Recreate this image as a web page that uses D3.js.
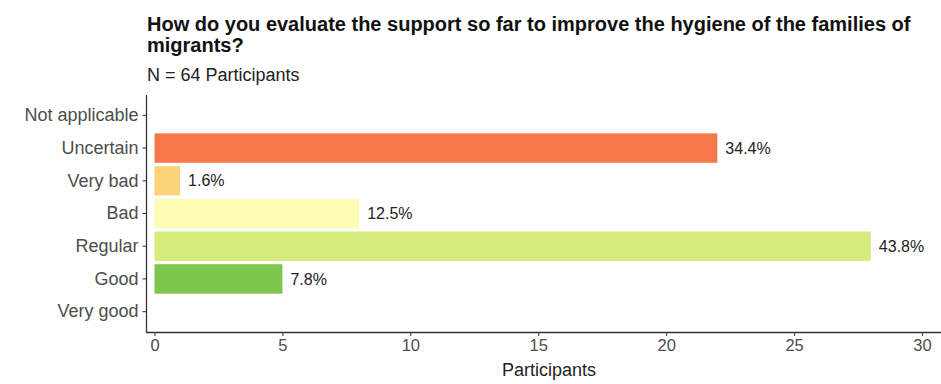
<!DOCTYPE html>
<html>
<head>
<meta charset="utf-8">
<script src="https://cdn.jsdelivr.net/npm/d3@7"></script>
<style>
  body { margin: 0; background: #fff; font-family: "Liberation Sans", Arial, sans-serif; }
</style>
</head>
<body>
<div id="chart"></div>
<script>
// categories from top to bottom
const categories = ["Not applicable", "Uncertain", "Very bad", "Bad", "Regular", "Good", "Very good"];
const counts = [0, 22, 1, 8, 28, 5, 0];
const percentLabels = ["", "34.4%", "1.6%", "12.5%", "43.8%", "7.8%", ""];
const barColors = ["#cccccc", "#f7784a", "#fdd37a", "#fefcb4", "#d5ec7c", "#7fc64f", "#1a9850"];
const xTicks = [0, 5, 10, 15, 20, 25, 30];

const width = 941, height = 384;

const svg = d3.select("#chart").append("svg")
    .attr("width", width)
    .attr("height", height);

const x = d3.scaleLinear()
    .domain([0, 30])
    .range([154.5, 922]);

const y = d3.scaleBand()
    .domain(categories)
    .range([99, 328])
    .paddingInner(0.1)
    .paddingOuter(0.05);

// Title and subtitle
svg.append("text")
    .attr("x", 147).attr("y", 31)
    .style("font-size", "20px").style("font-weight", "bold").style("fill", "#111")
    .text("How do you evaluate the support so far to improve the hygiene of the families of");
svg.append("text")
    .attr("x", 147).attr("y", 51.5)
    .style("font-size", "20px").style("font-weight", "bold").style("fill", "#111")
    .text("migrants?");
svg.append("text")
    .attr("x", 147).attr("y", 81)
    .style("font-size", "18px").style("fill", "#222")
    .text("N = 64 Participants");

// Bars
svg.selectAll("rect.bar")
    .data(categories)
    .enter().append("rect")
    .attr("class", "bar")
    .attr("x", x(0))
    .attr("y", d => y(d))
    .attr("width", (d, i) => x(counts[i]) - x(0))
    .attr("height", y.bandwidth())
    .style("fill", (d, i) => barColors[i]);

// Percent labels
svg.selectAll("text.pct")
    .data(categories)
    .enter().append("text")
    .attr("class", "pct")
    .attr("x", (d, i) => x(counts[i]) + 8)
    .attr("y", d => y(d) + y.bandwidth() / 2)
    .attr("dy", "0.35em")
    .style("font-size", "16px")
    .style("fill", "#222")
    .text((d, i) => percentLabels[i]);

// Axes
const xAxis = svg.append("g")
    .attr("transform", "translate(0,332)")
    .call(d3.axisBottom(x).tickValues(xTicks).tickSize(4).tickPadding(3).tickSizeOuter(0));
xAxis.select(".domain").attr("d", "M146,0.5H941").style("stroke", "#333").style("stroke-width", 1.3);
xAxis.selectAll(".tick line").style("stroke", "#333");
xAxis.selectAll(".tick text").style("font-size", "16.5px").style("fill", "#4d4d4d")
    .style("font-family", "Liberation Sans, Arial, sans-serif");

const yAxis = svg.append("g")
    .attr("transform", "translate(146.5,0)")
    .call(d3.axisLeft(y).tickSize(4).tickPadding(4).tickSizeOuter(0));
yAxis.select(".domain").attr("d", "M0,95V332.5").style("stroke", "#333").style("stroke-width", 1.3);
yAxis.selectAll(".tick line").style("stroke", "#333");
yAxis.selectAll(".tick text").style("font-size", "18px").style("fill", "#4d4d4d")
    .style("font-family", "Liberation Sans, Arial, sans-serif");

// Axis title
svg.append("text")
    .attr("x", 549).attr("y", 376)
    .attr("text-anchor", "middle")
    .style("font-size", "18px").style("fill", "#222")
    .text("Participants");
</script>
</body>
</html>
